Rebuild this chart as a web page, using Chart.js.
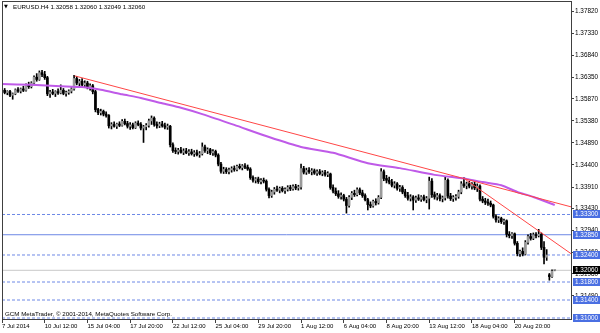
<!DOCTYPE html>
<html><head><meta charset="utf-8">
<script src="https://cdn.jsdelivr.net/npm/chart.js@4.4.1/dist/chart.umd.min.js"></script>
<style>html,body{margin:0;padding:0;background:#fff;}canvas{display:block;}</style>
</head><body>
<canvas id="c" width="600" height="333"></canvas>
<script>
const symbolTitle = 'EURUSD.H4 1.32058 1.32060 1.32049 1.32060';
const copyright = 'GCM MetaTrader, \u00A9 2001-2014, MetaQuotes Software Corp.';

const opens = [
1.3604,1.3606,1.3601,1.3603,1.3595,1.3598,1.3607,1.3604,1.3609,1.3606,
1.3617,1.3614,1.3622,1.3635,1.3630,1.3645,1.3641,1.3634,1.3598,1.3602,
1.3599,1.3603,1.3600,1.3606,1.3599,1.3601,1.3604,1.3609,1.3632,1.3622,
1.3626,1.3618,1.3622,1.3613,1.3616,1.3603,1.3563,1.3556,1.3559,1.3553,
1.3550,1.3527,1.3530,1.3526,1.3531,1.3528,1.3537,1.3532,1.3526,1.3529,
1.3523,1.3533,1.3530,1.3522,1.3525,1.3528,1.3538,1.3544,1.3530,1.3527,
1.3531,1.3527,1.3524,1.3526,1.3485,1.3472,1.3470,1.3473,1.3468,1.3471,
1.3467,1.3469,1.3465,1.3467,1.3463,1.3465,1.3480,1.3472,1.3474,1.3467,
1.3470,1.3462,1.3442,1.3426,1.3430,1.3425,1.3429,1.3432,1.3430,1.3437,
1.3434,1.3438,1.3435,1.3431,1.3412,1.3406,1.3409,1.3403,1.3406,1.3404,
1.3386,1.3372,1.3380,1.3386,1.3384,1.3388,1.3383,1.3386,1.3390,1.3387,
1.3392,1.3389,1.3391,1.3432,1.3424,1.3428,1.3425,1.3427,1.3422,1.3425,
1.3421,1.3423,1.3419,1.3420,1.3390,1.3382,1.3376,1.3370,1.3372,1.3364,
1.3350,1.3368,1.3377,1.3374,1.3385,1.3378,1.3372,1.3363,1.3352,1.3349,
1.3359,1.3356,1.3368,1.3425,1.3410,1.3406,1.3402,1.3395,1.3398,1.3388,
1.3390,1.3380,1.3372,1.3366,1.3369,1.3362,1.3367,1.3364,1.3369,1.3363,
1.3366,1.3404,1.3374,1.3369,1.3372,1.3365,1.3367,1.3406,1.3371,1.3365,
1.3368,1.3370,1.3380,1.3398,1.3394,1.3398,1.3393,1.3397,1.3389,1.3393,
1.3364,1.3360,1.3357,1.3355,1.3351,1.3326,1.3318,1.3321,1.3314,1.3316,
1.3286,1.3283,1.3287,1.3266,1.3243,1.3248,1.3242,1.3268,1.3281,1.3277,
1.3285,1.3283,1.3286,1.3257,1.3235,1.3196,1.3192,1.32058];

const highs = [
1.3609,1.3610,1.3605,1.3606,1.3600,1.3609,1.3612,1.3611,1.3615,1.3620,
1.3624,1.3625,1.3638,1.3643,1.3649,1.3650,1.3648,1.3637,1.3606,1.3608,
1.3605,1.3609,1.3618,1.3610,1.3604,1.3607,1.3612,1.3639,1.3637,1.3630,
1.3632,1.3627,1.3626,1.3620,1.3619,1.3606,1.3566,1.3564,1.3562,1.3558,
1.3552,1.3534,1.3536,1.3533,1.3536,1.3541,1.3542,1.3537,1.3534,1.3533,
1.3536,1.3538,1.3534,1.3528,1.3532,1.3542,1.3549,1.3547,1.3536,1.3535,
1.3537,1.3533,1.3531,1.3528,1.3489,1.3478,1.3477,1.3479,1.3476,1.3477,
1.3474,1.3475,1.3472,1.3473,1.3470,1.3489,1.3484,1.3478,1.3477,1.3474,
1.3473,1.3465,1.3446,1.3435,1.3434,1.3433,1.3436,1.3438,1.3440,1.3442,
1.3441,1.3443,1.3440,1.3434,1.3416,1.3412,1.3413,1.3410,1.3411,1.3407,
1.3389,1.3384,1.3390,1.3393,1.3391,1.3392,1.3389,1.3394,1.3395,1.3396,
1.3397,1.3395,1.3442,1.3437,1.3433,1.3434,1.3432,1.3431,1.3429,1.3430,
1.3427,1.3428,1.3425,1.3422,1.3396,1.3389,1.3383,1.3378,1.3375,1.3368,
1.3372,1.3381,1.3384,1.3389,1.3389,1.3384,1.3376,1.3366,1.3358,1.3362,
1.3365,1.3372,1.3432,1.3429,1.3417,1.3413,1.3408,1.3403,1.3401,1.3395,
1.3394,1.3386,1.3379,1.3374,1.3372,1.3371,1.3374,1.3372,1.3373,1.3370,
1.3413,1.3410,1.3380,1.3377,1.3376,1.3371,1.3413,1.3409,1.3377,1.3372,
1.3374,1.3384,1.3403,1.3412,1.3402,1.3404,1.3401,1.3403,1.3398,1.3396,
1.3370,1.3366,1.3364,1.3360,1.3353,1.3330,1.3325,1.3324,1.3320,1.3318,
1.3292,1.3290,1.3289,1.3270,1.3251,1.3256,1.3272,1.3285,1.3288,1.3289,
1.3290,1.3297,1.3289,1.3270,1.3252,1.3199,1.3207,1.32060];

const lows = [
1.3600,1.3598,1.3596,1.3592,1.3586,1.3596,1.3601,1.3600,1.3603,1.3604,
1.3610,1.3611,1.3618,1.3626,1.3628,1.3636,1.3630,1.3594,1.3590,1.3596,
1.3592,1.3597,1.3598,1.3596,1.3593,1.3597,1.3600,1.3606,1.3618,1.3615,
1.3614,1.3612,1.3609,1.3606,1.3598,1.3558,1.3552,1.3551,1.3549,1.3546,
1.3522,1.3520,1.3524,1.3521,1.3525,1.3526,1.3529,1.3522,1.3519,1.3520,
1.3521,1.3527,1.3518,1.3490,1.3518,1.3524,1.3530,1.3526,1.3522,1.3523,
1.3524,1.3520,1.3519,1.3480,1.3468,1.3465,1.3464,1.3466,1.3463,1.3465,
1.3461,1.3462,1.3459,1.3460,1.3457,1.3462,1.3468,1.3465,1.3463,1.3461,
1.3458,1.3438,1.3422,1.3421,1.3421,1.3420,1.3424,1.3426,1.3427,1.3431,
1.3429,1.3432,1.3428,1.3408,1.3402,1.3400,1.3399,1.3398,1.3400,1.3382,
1.3367,1.3368,1.3375,1.3381,1.3378,1.3380,1.3377,1.3382,1.3383,1.3384,
1.3385,1.3384,1.3386,1.3420,1.3419,1.3421,1.3418,1.3419,1.3417,1.3418,
1.3416,1.3415,1.3414,1.3386,1.3378,1.3372,1.3366,1.3364,1.3360,1.3333,
1.3346,1.3363,1.3370,1.3371,1.3374,1.3368,1.3360,1.3340,1.3345,1.3346,
1.3351,1.3353,1.3365,1.3405,1.3400,1.3398,1.3391,1.3389,1.3384,1.3381,
1.3376,1.3368,1.3362,1.3360,1.3340,1.3357,1.3361,1.3359,1.3360,1.3356,
1.3342,1.3368,1.3364,1.3362,1.3360,1.3358,1.3362,1.3366,1.3361,1.3359,
1.3362,1.3366,1.3376,1.3390,1.3387,1.3389,1.3386,1.3385,1.3381,1.3360,
1.3356,1.3352,1.3350,1.3347,1.3322,1.3313,1.3312,1.3310,1.3308,1.3280,
1.3278,1.3277,1.3262,1.3238,1.3237,1.3238,1.3240,1.3264,1.3273,1.3274,
1.3278,1.3280,1.3252,1.3220,1.3228,1.3184,1.3190,1.32049];

const closes = [
1.3606,1.3601,1.3603,1.3595,1.3598,1.3607,1.3604,1.3609,1.3606,1.3617,
1.3614,1.3622,1.3635,1.3630,1.3645,1.3641,1.3634,1.3598,1.3602,1.3599,
1.3603,1.3600,1.3606,1.3599,1.3601,1.3604,1.3609,1.3632,1.3622,1.3626,
1.3618,1.3622,1.3613,1.3616,1.3603,1.3563,1.3556,1.3559,1.3553,1.3550,
1.3527,1.3530,1.3526,1.3531,1.3528,1.3537,1.3532,1.3526,1.3529,1.3523,
1.3533,1.3530,1.3522,1.3525,1.3528,1.3538,1.3544,1.3530,1.3527,1.3531,
1.3527,1.3524,1.3526,1.3485,1.3472,1.3470,1.3473,1.3468,1.3471,1.3467,
1.3469,1.3465,1.3467,1.3463,1.3465,1.3480,1.3472,1.3474,1.3467,1.3470,
1.3462,1.3442,1.3426,1.3430,1.3425,1.3429,1.3432,1.3430,1.3437,1.3434,
1.3438,1.3435,1.3431,1.3412,1.3406,1.3409,1.3403,1.3406,1.3404,1.3386,
1.3372,1.3380,1.3386,1.3384,1.3388,1.3383,1.3386,1.3390,1.3387,1.3392,
1.3389,1.3391,1.3432,1.3424,1.3428,1.3425,1.3427,1.3422,1.3425,1.3421,
1.3423,1.3419,1.3420,1.3390,1.3382,1.3376,1.3370,1.3372,1.3364,1.3350,
1.3368,1.3377,1.3374,1.3385,1.3378,1.3372,1.3363,1.3352,1.3349,1.3359,
1.3356,1.3368,1.3425,1.3410,1.3406,1.3402,1.3395,1.3398,1.3388,1.3390,
1.3380,1.3372,1.3366,1.3369,1.3362,1.3367,1.3364,1.3369,1.3363,1.3366,
1.3404,1.3374,1.3369,1.3372,1.3365,1.3367,1.3406,1.3371,1.3365,1.3368,
1.3370,1.3380,1.3398,1.3394,1.3398,1.3393,1.3397,1.3389,1.3393,1.3364,
1.3360,1.3357,1.3355,1.3351,1.3326,1.3318,1.3321,1.3314,1.3316,1.3286,
1.3283,1.3287,1.3266,1.3243,1.3248,1.3242,1.3268,1.3281,1.3277,1.3285,
1.3283,1.3286,1.3257,1.3235,1.3240,1.3192,1.3204,1.32060];

const xTickBars = [0,16,32,48,64,80,96,112,128,144,160,176,192];
const xTickLabels = ['7 Jul 2014','10 Jul 12:00','15 Jul 04:00','17 Jul 20:00','22 Jul 12:00','25 Jul 04:00','29 Jul 20:00','1 Aug 12:00','6 Aug 04:00','8 Aug 20:00','13 Aug 12:00','18 Aug 04:00','20 Aug 20:00'];
const yTickValues = [1.37820,1.37330,1.36840,1.36350,1.35870,1.35380,1.34890,1.34400,1.33910,1.33430,1.32940,1.32460,1.31980,1.31490];

const maBars   = [0,11,22,30,37,45,52,60,67,75,87,100,112,124,137,149,162,174,180,187,193,199,207];
const maValues = [1.3620,1.3618,1.3615,1.3613,1.3607,1.3597,1.3589,1.3577,1.3567,1.3553,1.3529,1.3502,1.3480,1.3467,1.3444,1.3433,1.3418,1.3409,1.3402,1.3395,1.3380,1.3369,1.3351];

const trend1Bars = [27.2, 213.1];
const trend1Values = [1.3638, 1.3347];
const trend2Bars = [173.5, 213.1];
const trend2Values = [1.3408, 1.3243];

const levelValues = [1.33300, 1.32850, 1.32400, 1.31800, 1.31400, 1.31000];
const levelSolid  = [false, true, false, false, false, false];
const bidValue = 1.32060;

const X_MAX = 213.1;
const FONT = '"Liberation Sans", Arial, sans-serif';
const LINE_BLUE = '#6d88e6';
const BOX_BLUE = '#4a6fe2';

const datasets = [];
levelValues.forEach((v, k) => {
  datasets.push({type:'line', data:[{x:0,y:v},{x:X_MAX,y:v}], borderColor:LINE_BLUE, borderWidth:1,
    borderDash: levelSolid[k] ? [] : [3,2], pointRadius:0, order:20});
});
datasets.push({type:'line', data:[{x:0,y:bidValue},{x:X_MAX,y:bidValue}], borderColor:'#c8c8c8', borderWidth:1, pointRadius:0, order:19});
datasets.push({type:'bar', data: opens.map((o,i)=>({x:i, y:[lows[i], highs[i]]})), backgroundColor:'#000',
  barThickness:1, grouped:false, order:5});
datasets.push({type:'bar', data: opens.map((o,i)=>({x:i, y:[o, closes[i]]})),
  backgroundColor: ctx => (closes[ctx.dataIndex] >= opens[ctx.dataIndex] ? '#9a9a9a' : '#000'),
  barThickness:2, minBarLength:1, grouped:false, order:4});
datasets.push({type:'line', data: maBars.map((b,k)=>({x:b,y:maValues[k]})), borderColor:'#bf5ae8', borderWidth:2, pointRadius:0, tension:0.2, order:2});
datasets.push({type:'line', data: trend1Bars.map((b,k)=>({x:b,y:trend1Values[k]})), borderColor:'#ff4646', borderWidth:1, pointRadius:0, order:1});
datasets.push({type:'line', data: trend2Bars.map((b,k)=>({x:b,y:trend2Values[k]})), borderColor:'#ff4646', borderWidth:1, pointRadius:0, order:1});

const overlay = {
  id:'overlay',
  afterDraw(chart){
    const {ctx, chartArea:a, scales:{y}} = chart;
    ctx.save();
    ctx.strokeStyle = '#404040'; ctx.lineWidth = 1;
    ctx.strokeRect(a.left+0.5, a.top+0.5, a.right-a.left, a.bottom-a.top);
    ctx.fillStyle = '#000'; ctx.textBaseline = 'middle'; ctx.textAlign = 'left';
    ctx.font = '5px "DejaVu Sans", sans-serif';
    ctx.fillText('\u25BC', a.left+2, a.top+6);
    ctx.font = '6.2px ' + FONT;
    ctx.fillText(symbolTitle, a.left+11, a.top+6);
    ctx.fillText(copyright, a.left+3, a.bottom-5);
    const boxes = levelValues.map(v => ({v, fill:BOX_BLUE})).concat([{v:bidValue, fill:'#000'}]);
    ctx.font = '6.4px ' + FONT;
    boxes.forEach(b => {
      const py = Math.round(y.getPixelForValue(b.v));
      ctx.fillStyle = b.fill;
      ctx.fillRect(a.right+2, py-4, 27, 8);
      ctx.fillStyle = '#fff';
      ctx.fillText(b.v.toFixed(5), a.right+4, py);
    });
    ctx.restore();
  }
};

new Chart(document.getElementById('c'), {
  type:'bar',
  data:{datasets},
  plugins:[overlay],
  options:{
    responsive:false, animation:false, devicePixelRatio:1, events:[],
    layout:{padding:{left:2, top:1, right:0, bottom:0}},
    plugins:{legend:{display:false}, tooltip:{enabled:false}},
    scales:{
      x:{type:'linear', min:0, max:X_MAX, offset:false, bounds:'data',
        afterBuildTicks: s => { s.ticks = xTickBars.map(v => ({value:v})); },
        afterFit: s => { s.height = 14; s.paddingLeft = 0; s.paddingRight = 0; },
        grid:{drawOnChartArea:false, tickLength:4, color:'#404040', offset:false},
        border:{display:false},
        ticks:{autoSkip:false, maxRotation:0, minRotation:0, align:'start', padding:0, color:'#000',
          font:{family:FONT, size:6}, callback: v => xTickLabels[xTickBars.indexOf(v)]}
      },
      y:{type:'linear', position:'right', min:1.30978, max:1.38043, bounds:'data', beginAtZero:false,
        afterBuildTicks: s => { s.ticks = yTickValues.map(v => ({value:v})); },
        afterFit: s => { s.width = 29; s.paddingTop = 0; s.paddingBottom = 0; },
        grid:{drawOnChartArea:false, tickLength:3, color:'#404040'},
        border:{display:false},
        ticks:{autoSkip:false, padding:1, color:'#000', font:{family:FONT, size:6.4},
          callback: v => Number(v).toFixed(5)}
      }
    }
  }
});
</script>
</body></html>
